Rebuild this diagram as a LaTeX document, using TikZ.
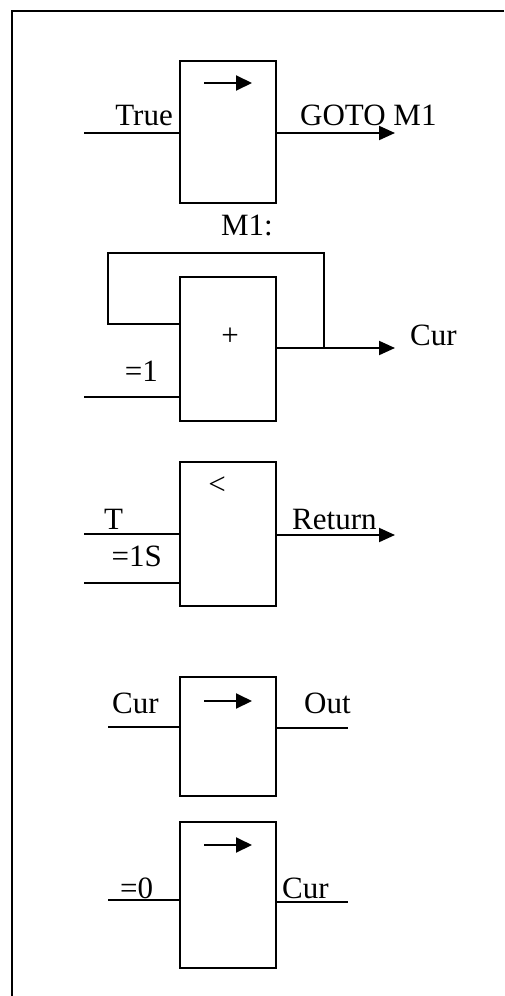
\documentclass[tikz,border=0pt]{standalone}
\usepackage{fontspec}
\setmainfont{Liberation Serif}
\usetikzlibrary{positioning, arrows.meta}

\begin{document}
\begin{tikzpicture}[x=1pt, y=-1pt,
    fblock/.style={draw, line width=2pt, inner sep=0pt, minimum width=96pt},
    wire/.style={line width=2pt},
    flow/.style={wire, -{Triangle[length=16pt, width=14pt]}},
    sym/.style={wire, -{Triangle[length=16pt, width=15pt]}},
    lbl/.style={inner sep=0pt, font=\fontsize{31}{36}\selectfont}]
    \useasboundingbox (0,0) rectangle (504,996);
    \draw[wire] (504,11) -- (12,11) -- (12,996);

    % move True -> GOTO M1
    \node[fblock, minimum height=142pt] (movA) at (228,132) {};
    \draw[sym] ([shift={(-24,23)}]movA.north) -- ++(48,0);
    \coordinate (movAin) at (84,133);
    \coordinate (movAout) at (395,133);
    \draw[wire] (movAin) -- (movA.west |- movAin);
    \draw[flow] (movA.east |- movAout) -- (movAout);
    \node[lbl, anchor=base east] (trueL) at (173,125) {True};
    \node[lbl, anchor=base west] (gotoL) at (300,125) {GOTO M1};

    % adder with feedback
    \node[lbl, anchor=base] (m1L) at (247,235) {M1:};
    \node[fblock, minimum height=144pt] (add) at (228,349) {};
    \node[lbl] (plusL) at (230,337) {+};
    \coordinate (tap) at (324,348);
    \coordinate (addout) at (395,348);
    \coordinate (addin) at (84,397);
    \draw[wire] (add.west |- 0,324) -- (108,324) |- (324,253) -- (tap);
    \draw[flow] (add.east |- tap) -- (addout);
    \draw[wire] (addin) -- (add.west |- addin);
    \node[lbl, anchor=base west] (curA) at (410,345) {Cur};
    \node[lbl, anchor=base east] (oneL) at (158,381) {=1};

    % compare T < 1S
    \node[fblock, minimum height=144pt] (lessthan) at (228,534) {};
    \node[lbl] (ltL) at (217,486) {<};
    \coordinate (ltinA) at (84,534);
    \coordinate (ltinB) at (84,583);
    \coordinate (ltout) at (395,535);
    \draw[wire] (ltinA) -- (lessthan.west |- ltinA);
    \draw[wire] (ltinB) -- (lessthan.west |- ltinB);
    \draw[flow] (lessthan.east |- ltout) -- (ltout);
    \node[lbl, anchor=base west] (tL) at (104,529) {T};
    \node[lbl, anchor=base east] (secL) at (162,566) {=1S};
    \node[lbl, anchor=base west] (retL) at (292,529) {Return};

    % move Cur -> Out
    \node[fblock, minimum height=119pt] (movB) at (228,736.5) {};
    \draw[sym] ([shift={(-24,25)}]movB.north) -- ++(48,0);
    \coordinate (movBin) at (108,727);
    \coordinate (movBout) at (348,728);
    \draw[wire] (movBin) -- (movB.west |- movBin);
    \draw[wire] (movB.east |- movBout) -- (movBout);
    \node[lbl, anchor=base west] (curB) at (112,713) {Cur};
    \node[lbl, anchor=base west] (outL) at (304,713) {Out};

    % move 0 -> Cur
    \node[fblock, minimum height=146pt] (movC) at (228,895) {};
    \draw[sym] ([shift={(-24,24)}]movC.north) -- ++(48,0);
    \coordinate (movCin) at (108,900);
    \coordinate (movCout) at (348,902);
    \draw[wire] (movCin) -- (movC.west |- movCin);
    \draw[wire] (movC.east |- movCout) -- (movCout);
    \node[lbl, anchor=base west] (zeroL) at (120,898) {=0};
    \node[lbl, anchor=base west] (curC) at (282,898) {Cur};
\end{tikzpicture}
\end{document}
